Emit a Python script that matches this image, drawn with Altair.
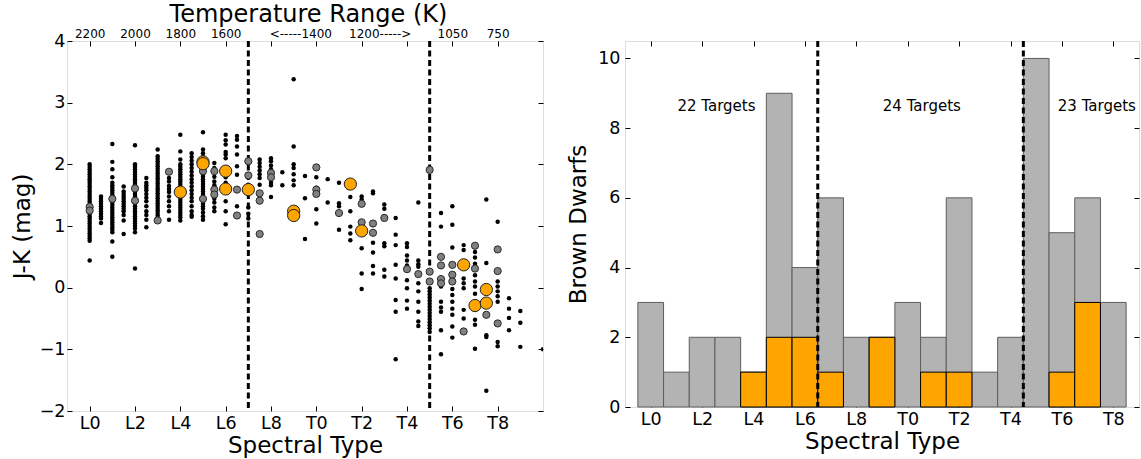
import altair as alt
import pandas as pd

FONT = "DejaVu Sans"

# ---------------- Left panel: J-K colour vs spectral type ----------------
# small black dots: field brown dwarfs, one J-K list per spectral-type column
field_spt = [0, 0.5, 1, 1.5, 2, 2.5, 3, 3.5, 4, 4.5, 5, 5.5, 6, 6.5, 7, 7.5, 8, 8.5, 9, 9.5,
             10, 10.5, 11, 11.5, 12, 12.5, 13, 13.5, 14, 14.5, 15, 15.5, 16, 16.5, 17, 17.5,
             18, 18.5, 19, 20]
field_jk = [
    [2.0, 1.96, 1.92, 1.88, 1.84, 1.80, 1.76, 1.72, 1.68, 1.64, 1.60, 1.56, 1.52, 1.48, 1.44, 1.40,
     1.36, 1.32, 1.28, 1.24, 1.20, 1.16, 1.12, 1.08, 1.04, 1.00, 0.96, 0.92, 0.88, 0.84, 0.80, 0.76, 0.44],
    [1.48, 1.44, 1.40, 1.36, 1.32, 1.28, 1.24, 1.20, 1.16, 1.12, 1.05],
    [2.33, 2.04, 1.92, 1.79, 1.70, 1.66, 1.62, 1.58, 1.54, 1.50, 1.46, 1.42, 1.38, 1.34, 1.30, 1.26,
     1.22, 1.18, 1.14, 1.10, 1.06, 1.02, 0.98, 0.94, 0.90, 0.75, 0.50],
    [1.64, 1.56, 1.52, 1.48, 1.44, 1.40, 1.36, 1.32, 1.28, 1.24, 1.18, 1.09, 0.87],
    [2.31, 2.0, 1.96, 1.92, 1.88, 1.84, 1.80, 1.76, 1.72, 1.68, 1.64, 1.56, 1.52, 1.48, 1.44, 1.36,
     1.32, 1.28, 1.24, 1.20, 1.16, 1.12, 1.08, 1.04, 1.00, 0.96, 0.90, 0.31],
    [1.78, 1.70, 1.66, 1.62, 1.58, 1.52, 1.46, 1.40, 1.32, 1.24, 1.18, 1.10, 0.98],
    [2.24, 2.13, 2.09, 2.05, 2.01, 1.97, 1.93, 1.89, 1.85, 1.81, 1.77, 1.73, 1.69, 1.65, 1.61, 1.57,
     1.53, 1.49, 1.45, 1.41, 1.37, 1.33, 1.29, 1.25, 1.21, 1.17, 1.13],
    [1.78, 1.72, 1.65, 1.60, 1.55, 1.48, 1.40, 1.32, 1.24, 1.10],
    [2.48, 2.21, 2.08, 2.0, 1.96, 1.92, 1.88, 1.84, 1.80, 1.76, 1.72, 1.68, 1.64, 1.60, 1.50, 1.46,
     1.42, 1.38, 1.34, 1.30, 1.26, 1.22, 1.18, 1.14, 1.09],
    [2.18, 2.12, 2.06, 2.0, 1.94, 1.88, 1.82, 1.76, 1.70, 1.64, 1.58, 1.52, 1.46, 1.40, 1.32, 1.24,
     1.18, 1.15],
    [2.52, 2.24, 2.18, 2.12, 2.06, 1.96, 1.84, 1.80, 1.76, 1.72, 1.68, 1.64, 1.60, 1.56, 1.52, 1.48,
     1.40, 1.36, 1.32, 1.28, 1.22, 1.16, 1.10],
    [2.02, 1.94, 1.80, 1.72, 1.66, 1.44, 1.38, 1.30, 1.24],
    [2.48, 2.39, 2.32, 2.20, 2.16, 2.10, 1.79, 1.70, 1.40, 1.24, 1.03],
    [2.46, 2.40, 2.29, 2.16, 1.97, 1.83, 1.32, 1.18],
    [1.67, 1.55, 1.30, 1.20, 1.12],
    [2.08, 2.02, 1.96, 1.90, 1.84, 1.78, 1.67],
    [2.10, 2.05, 1.98, 1.92, 1.70, 1.66, 1.47],
    [1.87, 1.66],
    [3.38, 2.29, 2.0, 1.94, 1.84, 1.74, 1.66],
    [1.81, 1.45, 0.79],
    [1.79, 1.62, 1.27, 1.04],
    [1.76, 1.38],
    [1.70, 1.37, 1.32, 0.94],
    [1.47, 1.24, 0.99, 0.88, 0.77],
    [1.48, 1.43, 0.64, 0.23, -0.02],
    [1.56, 1.53, 0.73, 0.57, 0.35, 0.23],
    [1.35, 1.28, 1.16, 0.72, 0.67, 0.29, 0.18],
    [1.13, 0.86, 0.69, 0.37, 0.15, -0.20, -0.39, -1.16],
    [0.72, 0.66, 0.52, 0.44, 0.36, 0.12, -0.01, -0.21, -0.34],
    [1.38, 0.44, 0.38, 0.34, 0.07, -0.06, -0.23, -0.39, -0.55, -0.62],
    [-0.01, -0.06, -0.11, -0.16, -0.21, -0.26, -0.31, -0.36, -0.41, -0.46, -0.51, -0.56, -0.61,
     -0.66, -0.72],
    [1.21, 0.99, 0.02, -0.23, -0.32, -0.39, -0.69, -1.08],
    [1.32, 1.02, 0.65, -0.02, -0.12, -0.23, -0.34, -0.44, -0.63, -0.81],
    [0.69, 0.61, 0.15, 0.07, -0.01, -0.36, -0.50],
    [0.58, 0.49, 0.39, 0.20, 0.10, 0.02, -0.10, -0.52, -0.60, -0.99],
    [1.43, 0.40, -0.77, -0.80, -1.67],
    [1.07, 0.10, 0.02, -0.06, -0.14, -0.23, -0.88, -0.95],
    [-0.17, -0.34, -0.49, -0.69],
    [-0.38, -0.57, -0.96],
    [-1.0],
]

# grey points
gray_spt = [0, 0, 1, 2, 2, 3, 3.5, 5, 5, 5.5, 5.5, 5.5, 6.5, 6.5, 7, 7, 7.5, 7.5, 7.5, 8, 8,
            10, 10, 10, 11, 12, 12, 12.5, 12.5, 13, 14, 14.5, 15, 15, 15, 15.5, 15.5, 15.5, 15.5,
            16, 16, 16, 16.5, 17, 17, 17.5, 18, 18, 18]
gray_jk = [1.31, 1.25, 1.44, 1.61, 1.41, 1.09, 1.88, 1.89, 1.44, 1.89, 1.59, 1.51, 1.59, 1.17,
           2.05, 1.82, 1.53, 1.41, 0.87, 1.86, 1.79, 1.95, 1.59, 1.52, 1.21, 1.36, 1.06, 1.04,
           0.89, 1.13, 0.30, 0.22, 1.91, 0.26, 0.10, 0.50, 0.36, 0.14, 0.07, 0.37, 0.21, 0.10,
           -0.71, 0.68, 0.31, -0.44, 0.62, 0.27, -0.58]

# orange points (targets)
orange_spt = [4, 5, 5, 6, 6, 7, 9, 9, 11.5, 12, 16.5, 17, 17.5, 17.5]
orange_jk = [1.55, 2.04, 2.01, 1.89, 1.60, 1.59, 1.24, 1.17, 1.68, 0.92, 0.37, -0.29, -0.03, -0.25]

left_dividers = [7, 15]

spt_tick_pos = [0, 2, 4, 6, 8, 10, 12, 14, 16, 18]
spt_tick_labels = ["L0", "L2", "L4", "L6", "L8", "T0", "T2", "T4", "T6", "T8"]
temp_tick_labels = ["2200", "2000", "1800", "1600", "", "<-----1400", "1200----->", "", "1050", "750"]
jk_ticks = [-2, -1, 0, 1, 2, 3, 4]

# ---------------- Right panel: histogram ----------------
hist_spt = list(range(19))
hist_total = [3, 1, 2, 2, 1, 9, 4, 6, 2, 2, 3, 2, 6, 1, 2, 10, 5, 6, 3]
hist_target = [0, 0, 0, 0, 1, 2, 2, 1, 0, 2, 0, 1, 1, 0, 0, 0, 1, 3, 0]
right_dividers = [6.5, 14.5]
count_ticks = [0, 2, 4, 6, 8, 10]
group_labels = ["22 Targets", "24 Targets", "23 Targets"]
group_label_x = [2.56, 10.55, 17.36]
group_label_y = [8.64, 8.64, 8.64]

# ---------------- build tables ----------------
field_rows = []
for s, vals in zip(field_spt, field_jk):
    for v in vals:
        field_rows.append({"spt": s, "jk": v})
df_field = pd.DataFrame(field_rows)
df_gray = pd.DataFrame({"spt": gray_spt, "jk": gray_jk})
df_orange = pd.DataFrame({"spt": orange_spt, "jk": orange_jk})
df_ldiv = pd.DataFrame({"x": left_dividers})

df_hist = pd.DataFrame({"spt": hist_spt, "total": hist_total, "target": hist_target})
df_target = df_hist[df_hist["target"] > 0]
df_rdiv = pd.DataFrame({"x": right_dividers})
df_glab = pd.DataFrame({"label": group_labels, "x": group_label_x, "y": group_label_y})


def js_list(items):
    return "[" + ",".join("'" + s + "'" for s in items) + "]"


spt_expr = js_list(spt_tick_labels) + "[round(datum.value / 2)]"
temp_expr = js_list(temp_tick_labels) + "[round(datum.value / 2)]"
minus_expr = "datum.value < 0 ? '\u2212' + abs(datum.value) : '' + datum.value"

TICK_FS = 17.5
TITLE_FS = 23

common_axis = dict(offset=-5, tickSize=5, domain=False, grid=False, tickColor="black",
                   labelColor="black", titleColor="black", labelFont=FONT, titleFont=FONT,
                   titleFontWeight="normal", tickWidth=1, labelOverlap=False, labelFlush=False)

# ---- left panel ----
xL = alt.Scale(domain=[-1, 20], nice=False, zero=False)
yL = alt.Scale(domain=[-2, 4], nice=False, zero=False)

ax_bottom_L = alt.Axis(orient="bottom", values=spt_tick_pos, labelExpr=spt_expr,
                       labelFontSize=TICK_FS, labelPadding=3, title="Spectral Type",
                       titleFontSize=TITLE_FS, titlePadding=3, **common_axis)
ax_left_L = alt.Axis(orient="left", values=jk_ticks, labelExpr=minus_expr, labelFontSize=TICK_FS,
                     labelPadding=2, title="J-K (mag)", titleFontSize=TITLE_FS, titlePadding=5,
                     **common_axis)
ax_top_L = alt.Axis(orient="top", values=spt_tick_pos, labelExpr=temp_expr, labelFontSize=12,
                    labelPadding=1, title="Temperature Range (K)", titleFontSize=24,
                    titlePadding=1, titleX=241,
                    labelOffset={"condition": [{"test": "datum.value == 10", "value": -16},
                                               {"test": "datum.value == 12", "value": 18}],
                                 "value": 0},
                    **common_axis)
ax_right_L = alt.Axis(orient="right", values=jk_ticks, labels=False, title=None, **common_axis)

rules_L = alt.Chart(df_ldiv).mark_rule(color="black", strokeWidth=3, strokeDash=[6, 3.5]).encode(
    x=alt.X("x:Q", scale=xL, axis=None)
)
black_L = alt.Chart(df_field).mark_circle(color="black", size=20, opacity=1, clip=True).encode(
    x=alt.X("spt:Q", scale=xL, axis=ax_bottom_L),
    y=alt.Y("jk:Q", scale=yL, axis=ax_left_L),
)
gray_L = alt.Chart(df_gray).mark_circle(fill="#808080", stroke="#2a2a2a", strokeWidth=1, size=52,
                                         opacity=1).encode(
    x=alt.X("spt:Q", scale=xL, axis=ax_top_L),
    y=alt.Y("jk:Q", scale=yL, axis=ax_right_L),
)
orange_L = alt.Chart(df_orange).mark_circle(fill="#FFA500", stroke="#222222", strokeWidth=1,
                                             size=150, opacity=1).encode(
    x=alt.X("spt:Q", scale=xL, axis=None),
    y=alt.Y("jk:Q", scale=yL, axis=None),
)
left = alt.layer(rules_L, black_L, gray_L, orange_L).resolve_axis(
    x="independent", y="independent"
).properties(width=476, height=370)

# ---- right panel ----
xR = alt.Scale(domain=[-1, 19], nice=False, zero=False)
yR = alt.Scale(domain=[0, 10.5], nice=False, zero=False)

ax_bottom_R = alt.Axis(orient="bottom", values=spt_tick_pos, labelExpr=spt_expr,
                       labelFontSize=TICK_FS, labelPadding=3, title="Spectral Type",
                       titleFontSize=TITLE_FS, titlePadding=3, **common_axis)
ax_left_R = alt.Axis(orient="left", values=count_ticks, labelFontSize=TICK_FS, labelPadding=5,
                     title="Brown Dwarfs", titleFontSize=TITLE_FS, titlePadding=7, **common_axis)
ax_top_R = alt.Axis(orient="top", values=spt_tick_pos, labels=False, title=None, **common_axis)
ax_right_R = alt.Axis(orient="right", values=count_ticks, labels=False, title=None, **common_axis)

bars_total = alt.Chart(df_hist).transform_calculate(
    lo="datum.spt - 0.5", hi="datum.spt + 0.5", base="0"
).mark_bar(fill="#b3b3b3", stroke="#5e5e5e", strokeWidth=1).encode(
    x=alt.X("lo:Q", scale=xR, axis=ax_bottom_R),
    x2="hi:Q",
    y=alt.Y("total:Q", scale=yR, axis=ax_left_R),
    y2="base:Q",
)
bars_target = alt.Chart(df_target).transform_calculate(
    lo="datum.spt - 0.5", hi="datum.spt + 0.5", base="0"
).mark_bar(fill="#FFA500", stroke="black", strokeWidth=1).encode(
    x=alt.X("lo:Q", scale=xR, axis=ax_top_R),
    x2="hi:Q",
    y=alt.Y("target:Q", scale=yR, axis=ax_right_R),
    y2="base:Q",
)
rules_R = alt.Chart(df_rdiv).mark_rule(color="black", strokeWidth=3, strokeDash=[6, 3.5]).encode(
    x=alt.X("x:Q", scale=xR, axis=None)
)
text_R = alt.Chart(df_glab).mark_text(font=FONT, fontSize=15, color="black").encode(
    x=alt.X("x:Q", scale=xR, axis=None),
    y=alt.Y("y:Q", scale=yR, axis=None),
    text="label:N",
)
right = alt.layer(bars_total, bars_target, rules_R, text_R).resolve_axis(
    x="independent", y="independent"
).properties(width=514, height=366)

chart = alt.hconcat(left, right, spacing=82, bounds="flush").properties(
    padding={"left": 10, "top": 1, "right": 0, "bottom": 0}
).configure_view(stroke="black", strokeWidth=1).configure(font=FONT)

chart.save("out.html", embed_options={"renderer": "svg", "actions": False})
